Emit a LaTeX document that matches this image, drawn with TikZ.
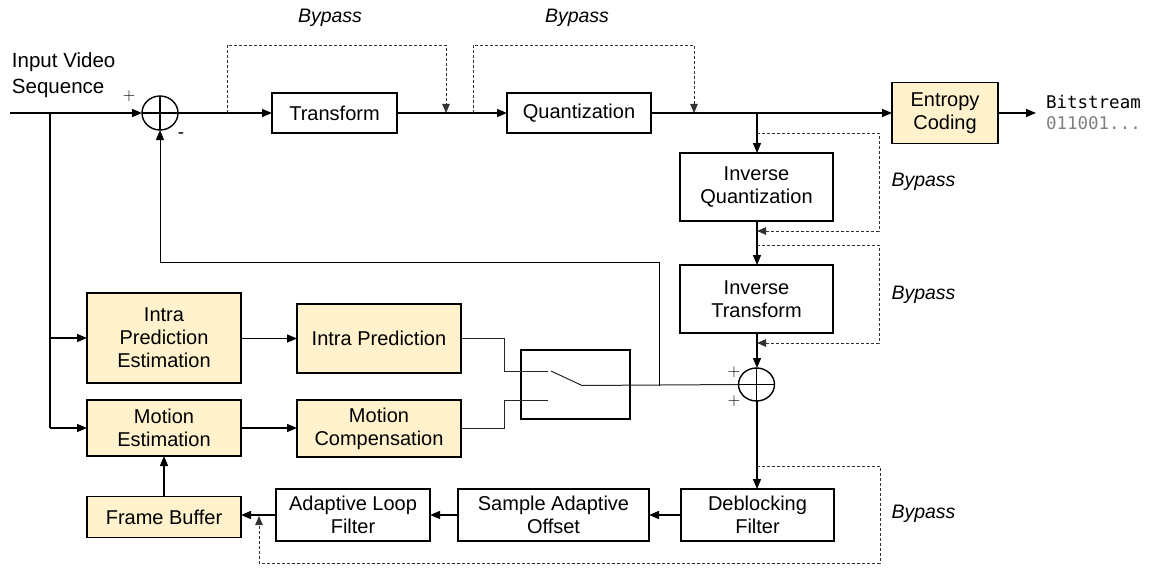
\documentclass[tikz,border=0pt]{standalone}
\usepackage{fontspec}
\setmainfont{Liberation Sans}
\setmonofont{DejaVu Sans Mono}
\usetikzlibrary{arrows.meta,shapes.geometric,calc}
\definecolor{yel}{HTML}{FFF2CC}
\definecolor{dashgray}{HTML}{333333}
\begin{document}
\begin{tikzpicture}[x=1pt,y=-1pt,
  every node/.style={inner sep=0pt,outer sep=0pt},
  blk/.style={draw,line width=1.4pt,align=center,fill=white,font=\fontsize{20}{23}\selectfont},
  yblk/.style={blk,fill=yel},
  sumc/.style={draw,ellipse,line width=1.4pt,minimum width=36pt,minimum height=34pt},
  conn/.style={line width=1.3pt,-{Triangle[length=10pt,width=8pt]}},
  wire/.style={line width=1.3pt},
  thinwire/.style={line width=1pt,black!85},
  byp/.style={dashed,dash pattern=on 3pt off 2pt,line width=0.9pt,dashgray,-{Triangle[length=9pt,width=7.5pt]}},
  lbl/.style={font=\fontsize{19.5}{23}\selectfont\itshape},
  txt/.style={font=\fontsize{20.5}{26}\selectfont},
  sgn/.style={font=\fontsize{17}{17}\selectfont}
]
\useasboundingbox (0,0) rectangle (1150,567);
% blocks
\node[blk,minimum width=125pt,minimum height=40pt] (T) at (334.5,113) {Transform};
\node[blk,minimum width=144pt,minimum height=40pt] (Q) at (579,113) {Quantization};
\node[yblk,minimum width=106pt,minimum height=61pt] (EC) at (945,113) {Entropy\\Coding};
\node[blk,minimum width=153pt,minimum height=68pt] (IQ) at (756.5,187) {Inverse\\Quantization};
\node[blk,minimum width=153pt,minimum height=68pt] (IT) at (756.5,299) {Inverse\\Transform};
\node[yblk,minimum width=154pt,minimum height=90pt] (IPE) at (164,338) {Intra\\Prediction\\Estimation};
\node[yblk,minimum width=164pt,minimum height=69pt] (IP) at (379,338.5) {Intra Prediction};
\node[yblk,minimum width=154pt,minimum height=56pt] (ME) at (164,428) {Motion\\Estimation};
\node[yblk,minimum width=164pt,minimum height=57pt] (MC) at (379,428.5) {Motion\\Compensation};
\node[draw,line width=1.3pt,minimum width=109pt,minimum height=69pt] (SW) at (575.5,384.5) {};
\node[yblk,minimum width=154pt,minimum height=41pt] (FB) at (164,517) {Frame Buffer};
\node[blk,minimum width=154pt,minimum height=52pt] (ALF) at (353,515) {Adaptive Loop\\Filter};
\node[blk,minimum width=191pt,minimum height=52pt] (SAO) at (553.5,515) {Sample Adaptive\\Offset};
\node[blk,minimum width=153pt,minimum height=52pt] (DF) at (757.5,515) {Deblocking\\Filter};
% summing junctions
\node[sumc] (S1) at (160,113) {};
\node[sumc,minimum height=33pt] (S2) at (756.5,384.5) {};
\draw[wire] (S1.north) -- (S1.south) (S1.west) -- (S1.east);
\draw[wire] (S2.north) -- (S2.south) (S2.west) -- (S2.east);
% texts
\node[txt,anchor=base west] (inp1) at (12,68) {Input Video};
\node[txt,anchor=base west] (inp2) at (12,94) {Sequence};
\node[sgn] (p1) at (129,96) {$+$};
\node[sgn,font=\fontsize{19}{19}\selectfont] (m1) at (181,136) {-};
\node[sgn] (p2) at (734,372) {$+$};
\node[sgn] (p3) at (734,401) {$+$};
\node[anchor=west,font=\fontsize{17.5}{20}\ttfamily] (bs) at (1046,102) {Bitstream};
\node[anchor=west,font=\fontsize{17.5}{20}\ttfamily,text=black!50] (bits) at (1046,123) {011001...};
\node[lbl] (b1) at (330,18) {Bypass};
\node[lbl] (b2) at (577,18) {Bypass};
\node[lbl] (b3) at (923.5,182) {Bypass};
\node[lbl] (b4) at (923.5,295) {Bypass};
\node[lbl] (b5) at (923.5,514) {Bypass};
% coordinates
\coordinate (in) at (10,113);
\coordinate (br1) at (50,113);
\coordinate (br2) at (757,113);
\coordinate (out) at (1036,113);
% main path
\draw[conn] (in) -- (S1.west);
\draw[conn] (S1.east) -- (T.west);
\draw[conn] (T.east) -- (Q.west);
\draw[conn] (Q.east) -- (EC.west);
\draw[conn] (EC.east) -- (out);
\draw[conn] (br2) -- (br2 |- IQ.north);
\draw[conn] (IQ.south -| br2) -- (br2 |- IT.north);
\draw[conn] (IT.south -| br2) -- (br2 |- S2.north);
\draw[conn] (S2.south -| br2) -- (br2 |- DF.north);
\draw[conn] (DF.west) -- (SAO.east);
\draw[conn] (SAO.west) -- (ALF.east);
\draw[conn] (ALF.west) -- (ALF.west -| FB.east);
\draw[conn] (FB.north) -- (ME.south);
\draw[wire] (br1) -- (br1 |- ME.west);
\draw[conn] (br1 |- IPE.west) -- (IPE.west);
\draw[conn] (br1 |- ME.west) -- (ME.west);
\draw[conn] (IPE.east |- IP.west) -- (IP.west);
\draw[conn] (ME.east) -- (ME.east -| MC.west);
% switch
\coordinate (sa) at (548,371);
\coordinate (sb) at (548,400);
\coordinate (sc) at (551,371);
\coordinate (sd) at (582,385.5);
\draw[thinwire] (IP.east) -- (504,338.5) -- (504,371) -- (sa);
\draw[thinwire] (MC.east) -- (504,428.5) -- (504,400) -- (sb);
\draw[thinwire] (sc) -- (sd) -- (S2.west);
% feedback
\coordinate (fb1) at (659,385.5);
\draw[line width=1pt,-{Triangle[length=10pt,width=8pt]}] (fb1) -- (659,262) -- (160,262) -- (S1.south);
% bypasses
\draw[byp] (227,113) -- (227,45) -- (446,45) -- (446,113);
\draw[byp] (473,113) -- (473,45) -- (694,45) -- (694,113);
\draw[byp] (757,133) -- (879,133) -- (879,231) -- (757,231);
\draw[byp] (757,245) -- (879,245) -- (879,343) -- (757,343);
\draw[byp] (757,466) -- (880,466) -- (880,563) -- (259,563) -- (259,516);
\end{tikzpicture}
\end{document}
